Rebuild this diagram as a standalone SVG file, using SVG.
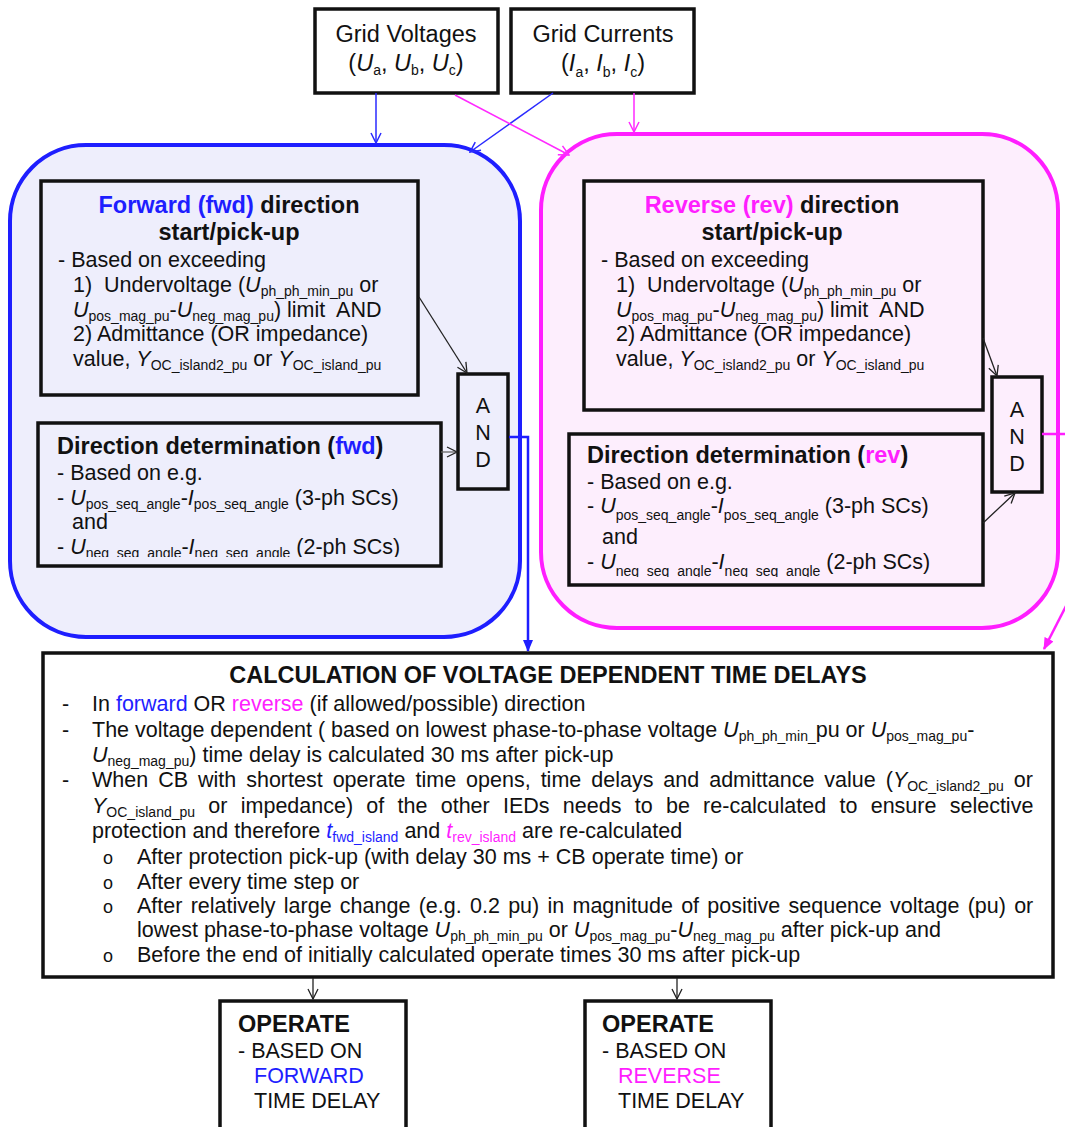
<svg xmlns="http://www.w3.org/2000/svg" width="1065" height="1127" viewBox="0 0 1065 1127">
  <defs>
    <style>
      text { font-family: "Liberation Sans", Arial, sans-serif; font-size: 21.5px; fill: #111; }
      .b { font-weight: bold; font-size: 23.5px; }
      .g { font-size: 23.5px; }
      .i { font-style: italic; }
      .s { font-size: 14px; font-style: normal; }
      .blue { fill: #1e1eff; }
      .mag { fill: #ff1eff; }
      .box { fill: none; stroke: #111; stroke-width: 3.5; }
      .wbox { fill: #fff; stroke: #111; stroke-width: 3.5; }
      .and { font-size: 21.5px; text-anchor: middle; }
      .bul { font-size: 18px; }
    </style>
    <marker id="vBlue" viewBox="0 0 12 12" refX="11" refY="6" markerWidth="12" markerHeight="12" markerUnits="userSpaceOnUse" orient="auto">
      <path d="M1,1 L11,6 L1,11" fill="none" stroke="#2a2aff" stroke-width="1.5"/>
    </marker>
    <marker id="vMag" viewBox="0 0 12 12" refX="11" refY="6" markerWidth="12" markerHeight="12" markerUnits="userSpaceOnUse" orient="auto">
      <path d="M1,1 L11,6 L1,11" fill="none" stroke="#ff2aff" stroke-width="1.5"/>
    </marker>
    <marker id="vBlack" viewBox="0 0 12 12" refX="11" refY="6" markerWidth="12" markerHeight="12" markerUnits="userSpaceOnUse" orient="auto">
      <path d="M1,1 L11,6 L1,11" fill="none" stroke="#222" stroke-width="1.3"/>
    </marker>
    <marker id="fBlue" viewBox="0 0 12 12" refX="11" refY="6" markerWidth="12" markerHeight="12" markerUnits="userSpaceOnUse" orient="auto">
      <path d="M0,1 L12,6 L0,11 Z" fill="#1e1eff"/>
    </marker>
    <marker id="fMag" viewBox="0 0 12 12" refX="11" refY="6" markerWidth="12" markerHeight="12" markerUnits="userSpaceOnUse" orient="auto">
      <path d="M0,1 L12,6 L0,11 Z" fill="#ff1eff"/>
    </marker>
    <clipPath id="clipFwd"><rect x="40" y="420" width="400" height="137"/></clipPath>
    <clipPath id="clipRev"><rect x="570" y="430" width="412" height="147"/></clipPath>
  </defs>

  <rect width="1065" height="1127" fill="#fff"/>

  <!-- direction panels -->
  <g id="fwd-panel">
    <rect x="10" y="145" width="510" height="492" rx="76" fill="#eeeefc" stroke="#1e1eff" stroke-width="4"/>
  </g>
  <g id="rev-panel">
    <rect x="541" y="134" width="517" height="494" rx="76" fill="#fdeefd" stroke="#ff1eff" stroke-width="4"/>
  </g>

  <!-- inputs -->
  <g id="grid-voltages">
    <rect x="315" y="9" width="183" height="84" class="wbox"/>
    <text x="406" y="42" class="g" text-anchor="middle">Grid Voltages</text>
    <text x="406" y="71" class="g" text-anchor="middle">(<tspan class="i">U</tspan><tspan class="s" dy="4">a</tspan><tspan dy="-4">, </tspan><tspan class="i">U</tspan><tspan class="s" dy="4">b</tspan><tspan dy="-4">, </tspan><tspan class="i">U</tspan><tspan class="s" dy="4">c</tspan><tspan dy="-4">)</tspan></text>
  </g>
  <g id="grid-currents">
    <rect x="511" y="9" width="183" height="84" class="wbox"/>
    <text x="603" y="42" class="g" text-anchor="middle">Grid Currents</text>
    <text x="603" y="71" class="g" text-anchor="middle">(<tspan class="i">I</tspan><tspan class="s" dy="6">a</tspan><tspan dy="-6">, </tspan><tspan class="i">I</tspan><tspan class="s" dy="6">b</tspan><tspan dy="-6">, </tspan><tspan class="i">I</tspan><tspan class="s" dy="6">c</tspan><tspan dy="-6">)</tspan></text>
  </g>

  <!-- forward side -->
  <g id="fwd-pickup">
    <rect x="41" y="181" width="377" height="214" class="box"/>
    <text x="229" y="213" class="b" text-anchor="middle"><tspan class="blue">Forward (fwd)</tspan> direction</text>
    <text x="229" y="240" class="b" text-anchor="middle">start/pick-up</text>
    <text x="58" y="267">- Based on exceeding</text>
    <text x="73" y="292">1)&#160; Undervoltage (<tspan class="i">U</tspan><tspan class="s" dy="4">ph_ph_min_pu</tspan><tspan dy="-4"> or</tspan></text>
    <text x="73" y="317"><tspan class="i">U</tspan><tspan class="s" dy="4">pos_mag_pu</tspan><tspan dy="-4">-</tspan><tspan class="i">U</tspan><tspan class="s" dy="4">neg_mag_pu</tspan><tspan dy="-4">) limit&#160; AND</tspan></text>
    <text x="73" y="341">2) Admittance (OR impedance)</text>
    <text x="73" y="366">value, <tspan class="i">Y</tspan><tspan class="s" dy="4">OC_island2_pu</tspan><tspan dy="-4"> or </tspan><tspan class="i">Y</tspan><tspan class="s" dy="4">OC_island_pu</tspan></text>
  </g>
  <g id="fwd-direction">
    <rect x="38" y="423" width="403" height="143" class="box"/>
    <text x="57" y="454" class="b">Direction determination (<tspan class="blue">fwd</tspan>)</text>
    <text x="57" y="480">- Based on e.g.</text>
    <text x="57" y="505">- <tspan class="i">U</tspan><tspan class="s" dy="4">pos_seq_angle</tspan><tspan dy="-4">-</tspan><tspan class="i">I</tspan><tspan class="s" dy="4">pos_seq_angle</tspan><tspan dy="-4"> (3-ph SCs)</tspan></text>
    <text x="72" y="529">and</text>
    <text x="57" y="554" clip-path="url(#clipFwd)">- <tspan class="i">U</tspan><tspan class="s" dy="4">neg_seq_angle</tspan><tspan dy="-4">-</tspan><tspan class="i">I</tspan><tspan class="s" dy="4">neg_seq_angle</tspan><tspan dy="-4"> (2-ph SCs)</tspan></text>
  </g>
  <g id="fwd-and">
    <rect x="458" y="374" width="50" height="115" class="box"/>
    <text x="483" y="413" class="and">A</text>
    <text x="483" y="440" class="and">N</text>
    <text x="483" y="467" class="and">D</text>
  </g>

  <!-- reverse side -->
  <g id="rev-pickup">
    <rect x="584" y="181" width="399" height="229" class="box"/>
    <text x="772" y="213" class="b" text-anchor="middle"><tspan class="mag">Reverse (rev)</tspan> direction</text>
    <text x="772" y="240" class="b" text-anchor="middle">start/pick-up</text>
    <text x="601" y="267">- Based on exceeding</text>
    <text x="616" y="292">1)&#160; Undervoltage (<tspan class="i">U</tspan><tspan class="s" dy="4">ph_ph_min_pu</tspan><tspan dy="-4"> or</tspan></text>
    <text x="616" y="317"><tspan class="i">U</tspan><tspan class="s" dy="4">pos_mag_pu</tspan><tspan dy="-4">-</tspan><tspan class="i">U</tspan><tspan class="s" dy="4">neg_mag_pu</tspan><tspan dy="-4">) limit&#160; AND</tspan></text>
    <text x="616" y="341">2) Admittance (OR impedance)</text>
    <text x="616" y="366">value, <tspan class="i">Y</tspan><tspan class="s" dy="4">OC_island2_pu</tspan><tspan dy="-4"> or </tspan><tspan class="i">Y</tspan><tspan class="s" dy="4">OC_island_pu</tspan></text>
  </g>
  <g id="rev-direction">
    <rect x="569" y="434" width="414" height="151" class="box"/>
    <text x="587" y="463" class="b">Direction determination (<tspan class="mag">rev</tspan>)</text>
    <text x="587" y="489">- Based on e.g.</text>
    <text x="587" y="513">- <tspan class="i">U</tspan><tspan class="s" dy="7">pos_seq_angle</tspan><tspan dy="-7">-</tspan><tspan class="i">I</tspan><tspan class="s" dy="7">pos_seq_angle</tspan><tspan dy="-7"> (3-ph SCs)</tspan></text>
    <text x="602" y="544">and</text>
    <text x="587" y="569" clip-path="url(#clipRev)">- <tspan class="i">U</tspan><tspan class="s" dy="7">neg_seq_angle</tspan><tspan dy="-7">-</tspan><tspan class="i">I</tspan><tspan class="s" dy="7">neg_seq_angle</tspan><tspan dy="-7"> (2-ph SCs)</tspan></text>
  </g>
  <g id="rev-and">
    <rect x="992" y="377" width="50" height="115" class="box"/>
    <text x="1017" y="417" class="and">A</text>
    <text x="1017" y="444" class="and">N</text>
    <text x="1017" y="471" class="and">D</text>
  </g>

  <!-- time delay calculation -->
  <g id="calc">
    <rect x="43" y="653" width="1010" height="324" class="wbox"/>
    <text x="548" y="683" class="b" text-anchor="middle">CALCULATION OF VOLTAGE DEPENDENT TIME DELAYS</text>
    <text x="62" y="711">-</text>
    <text x="92" y="711">In <tspan class="blue">forward</tspan> OR <tspan class="mag">reverse</tspan> (if allowed/possible) direction</text>
    <text x="62" y="737">-</text>
    <text x="92" y="737">The voltage dependent ( based on lowest phase-to-phase voltage <tspan class="i">U</tspan><tspan class="s" dy="4">ph_ph_min_</tspan><tspan dy="-4">pu or </tspan><tspan class="i">U</tspan><tspan class="s" dy="4">pos_mag_pu</tspan><tspan dy="-4">-</tspan></text>
    <text x="92" y="762"><tspan class="i">U</tspan><tspan class="s" dy="4">neg_mag_pu</tspan><tspan dy="-4">) time delay is calculated 30 ms after pick-up</tspan></text>
    <text x="62" y="787">-</text>
    <text x="92" y="787" word-spacing="4">When CB with shortest operate time opens, time delays and admittance value (<tspan class="i">Y</tspan><tspan class="s" dy="4">OC_island2_pu</tspan><tspan dy="-4"> or</tspan></text>
    <text x="92" y="813" word-spacing="7.3"><tspan class="i">Y</tspan><tspan class="s" dy="4">OC_island_pu</tspan><tspan dy="-4"> or impedance) of the other IEDs needs to be re-calculated to ensure selective</tspan></text>
    <text x="92" y="838">protection and therefore <tspan class="i blue">t</tspan><tspan class="s blue" dy="4">fwd_island</tspan><tspan dy="-4"> and </tspan><tspan class="i mag">t</tspan><tspan class="s mag" dy="4">rev_island</tspan><tspan dy="-4"> are re-calculated</tspan></text>
    <text x="103" y="864" class="bul">o</text>
    <text x="137" y="864">After protection pick-up (with delay 30 ms + CB operate time) or</text>
    <text x="103" y="889" class="bul">o</text>
    <text x="137" y="889">After every time step or</text>
    <text x="103" y="913" class="bul">o</text>
    <text x="137" y="913" word-spacing="2.3">After relatively large change (e.g. 0.2 pu) in magnitude of positive sequence voltage (pu) or</text>
    <text x="137" y="937">lowest phase-to-phase voltage <tspan class="i">U</tspan><tspan class="s" dy="4">ph_ph_min_pu</tspan><tspan dy="-4"> or </tspan><tspan class="i">U</tspan><tspan class="s" dy="4">pos_mag_pu</tspan><tspan dy="-4">-</tspan><tspan class="i">U</tspan><tspan class="s" dy="4">neg_mag_pu</tspan><tspan dy="-4"> after pick-up and</tspan></text>
    <text x="103" y="962" class="bul">o</text>
    <text x="137" y="962">Before the end of initially calculated operate times 30 ms after pick-up</text>
  </g>

  <!-- outputs -->
  <g id="operate-fwd">
    <rect x="220" y="1001" width="186" height="140" class="wbox"/>
    <text x="238" y="1032" class="b">OPERATE</text>
    <text x="238" y="1058">- BASED ON</text>
    <text x="254" y="1083" class="blue">FORWARD</text>
    <text x="254" y="1108">TIME DELAY</text>
  </g>
  <g id="operate-rev">
    <rect x="585" y="1001" width="186" height="140" class="wbox"/>
    <text x="602" y="1032" class="b">OPERATE</text>
    <text x="602" y="1058">- BASED ON</text>
    <text x="618" y="1083" class="mag">REVERSE</text>
    <text x="618" y="1108">TIME DELAY</text>
  </g>

  <!-- connectors -->
  <g id="connectors" fill="none">
    <line x1="376" y1="93" x2="376" y2="143" stroke="#2a2aff" stroke-width="1.5" marker-end="url(#vBlue)"/>
    <line x1="553" y1="93" x2="470" y2="152" stroke="#2a2aff" stroke-width="1.5" marker-end="url(#vBlue)"/>
    <line x1="455" y1="95" x2="569" y2="155" stroke="#ff2aff" stroke-width="1.5" marker-end="url(#vMag)"/>
    <line x1="634" y1="93" x2="634" y2="132" stroke="#ff2aff" stroke-width="1.5" marker-end="url(#vMag)"/>
    <line x1="419" y1="297" x2="467" y2="373" stroke="#222" stroke-width="1.3" marker-end="url(#vBlack)"/>
    <line x1="441" y1="452" x2="457" y2="452" stroke="#666" stroke-width="1.3" marker-end="url(#vBlack)"/>
    <line x1="983" y1="338" x2="997" y2="376" stroke="#222" stroke-width="1.3" marker-end="url(#vBlack)"/>
    <line x1="983" y1="523" x2="1015" y2="493" stroke="#222" stroke-width="1.3" marker-end="url(#vBlack)"/>
    <path d="M509,437 H528 V651" stroke="#1e1eff" stroke-width="2.5" marker-end="url(#fBlue)"/>
    <line x1="1042" y1="434" x2="1065" y2="434" stroke="#ff1eff" stroke-width="2.5"/>
    <line x1="1066" y1="606" x2="1044" y2="649" stroke="#ff1eff" stroke-width="2.5" marker-end="url(#fMag)"/>
    <line x1="313" y1="978" x2="313" y2="999" stroke="#222" stroke-width="1.3" marker-end="url(#vBlack)"/>
    <line x1="677" y1="978" x2="677" y2="999" stroke="#222" stroke-width="1.3" marker-end="url(#vBlack)"/>
  </g>
</svg>
